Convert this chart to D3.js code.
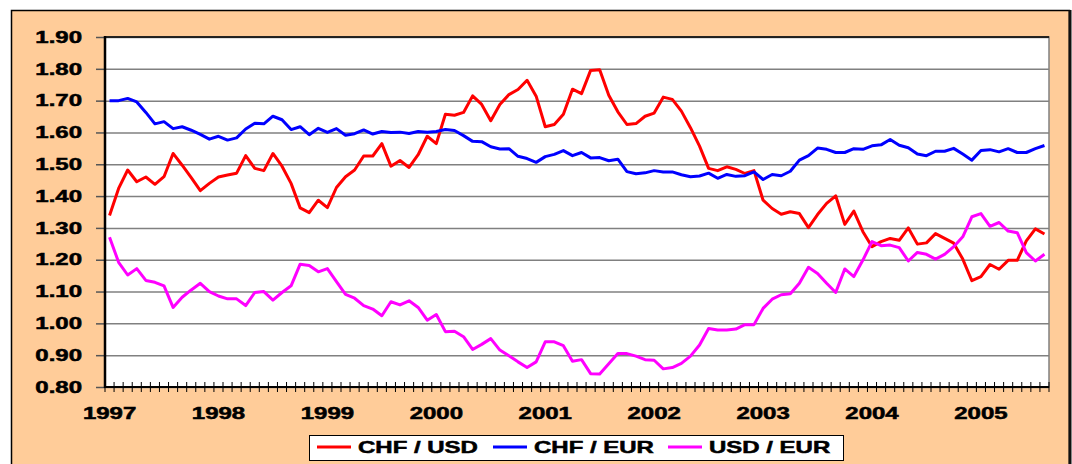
<!DOCTYPE html>
<meta charset="utf-8">
<head>
  <!-- D3 -->
  <script src="https://cdn.jsdelivr.net/npm/d3@7/dist/d3.min.js"></script>
  <style>
    body { margin: 0; background: #fff; }
    text { font-family: "Liberation Sans", Arial, sans-serif; font-weight: bold; font-size: 16px; fill: #000; stroke: #000; stroke-width: 0.5px; }
  </style>
</head>
<body>
<script>

// years shown on the x axis, one category per month Jan 1997 - Aug 2005
var years = ["1997","1998","1999","2000","2001","2002","2003","2004","2005"];
var yTicks = [0.8,0.9,1.0,1.1,1.2,1.3,1.4,1.5,1.6,1.7,1.8,1.9];

var chfUsd = [1.339,1.424,1.482,1.445,1.460,1.437,1.461,1.534,1.497,1.458,1.417,1.440,
  1.460,1.466,1.472,1.527,1.487,1.480,1.534,1.494,1.440,1.363,1.348,1.387,
  1.364,1.427,1.461,1.482,1.526,1.526,1.565,1.494,1.512,1.490,1.530,1.588,
  1.565,1.657,1.654,1.663,1.715,1.688,1.637,1.688,1.719,1.735,1.764,1.714,
  1.618,1.625,1.657,1.736,1.722,1.795,1.797,1.717,1.665,1.625,1.628,1.651,
  1.661,1.711,1.704,1.667,1.615,1.557,1.487,1.480,1.492,1.484,1.471,1.480,
  1.387,1.361,1.343,1.351,1.345,1.301,1.342,1.377,1.401,1.311,1.353,1.288,
  1.241,1.257,1.267,1.261,1.300,1.249,1.253,1.282,1.267,1.252,1.202,1.134,
  1.147,1.185,1.170,1.198,1.198,1.259,1.297,1.281];

var chfEur = [1.700,1.700,1.707,1.696,1.663,1.627,1.634,1.612,1.618,1.607,1.594,1.579,
  1.588,1.576,1.583,1.611,1.629,1.627,1.651,1.640,1.609,1.618,1.593,1.613,
  1.600,1.612,1.591,1.596,1.608,1.595,1.603,1.600,1.601,1.597,1.603,1.601,
  1.603,1.609,1.606,1.590,1.572,1.571,1.555,1.548,1.549,1.525,1.518,1.506,
  1.524,1.531,1.543,1.527,1.537,1.520,1.521,1.511,1.516,1.477,1.470,1.473,
  1.480,1.476,1.476,1.467,1.461,1.463,1.472,1.456,1.468,1.462,1.464,1.476,
  1.452,1.468,1.464,1.478,1.513,1.527,1.551,1.547,1.537,1.537,1.549,1.547,
  1.558,1.561,1.578,1.560,1.552,1.532,1.527,1.541,1.541,1.550,1.532,1.513,
  1.543,1.546,1.539,1.549,1.537,1.537,1.549,1.559];

var usdEur = [1.271,1.192,1.152,1.172,1.135,1.129,1.118,1.050,1.082,1.105,1.126,1.100,
  1.086,1.077,1.077,1.056,1.097,1.100,1.073,1.097,1.118,1.186,1.182,1.162,
  1.172,1.131,1.091,1.079,1.056,1.045,1.024,1.068,1.058,1.071,1.050,1.010,
  1.028,0.974,0.975,0.958,0.918,0.934,0.952,0.916,0.898,0.879,0.861,0.879,
  0.942,0.942,0.930,0.881,0.886,0.842,0.841,0.873,0.905,0.905,0.897,0.886,
  0.884,0.857,0.861,0.874,0.897,0.932,0.984,0.979,0.979,0.982,0.996,0.996,
  1.047,1.076,1.090,1.093,1.126,1.176,1.157,1.126,1.097,1.171,1.147,1.199,
  1.257,1.244,1.246,1.238,1.196,1.223,1.217,1.202,1.217,1.241,1.272,1.335,
  1.345,1.305,1.317,1.290,1.285,1.222,1.196,1.217];

var seriesNames = ["CHF / USD","CHF / EUR","USD / EUR"];
var seriesColors = ["#ff0000","#0000ff","#ff00ff"];
var allSeries = [chfUsd, chfEur, usdEur];

// one category per month
var months = [];
years.forEach(function(y){ for (var m = 1; m <= 12; m++) months.push(y + "-" + m); });
months = months.slice(0, chfUsd.length);

var plot = {left: 105, right: 1049, top: 37, bottom: 387};

var svg = d3.select("body").append("svg")
  .attr("width", 1072).attr("height", 464);

// fondo salmon
svg.append("rect")
  .attr("x", 11.5).attr("y", 10.5).attr("width", 1058).attr("height", 470)
  .attr("fill", "#ffcc99").attr("stroke", "#000").attr("stroke-width", 1.5);
svg.append("line")
  .attr("x1", 1070).attr("x2", 1070).attr("y1", 10).attr("y2", 464)
  .attr("stroke", "#111").attr("stroke-width", 3);

var x = d3.scaleBand().domain(months).range([plot.left, plot.right]);
var xEdge = d3.scaleLinear().domain([0, months.length]).range([plot.left, plot.right]);
var y = d3.scaleLinear().domain([0.8, 1.9]).range([plot.bottom, plot.top]);

// area del grafico
svg.append("rect")
  .attr("x", plot.left).attr("y", plot.top)
  .attr("width", plot.right - plot.left).attr("height", plot.bottom - plot.top)
  .attr("fill", "#fff").attr("stroke", "#808080").attr("stroke-width", 1.5);

// grilla + eje y
var yAxis = d3.axisLeft(y).tickValues(yTicks).tickSize(9).tickFormat(d3.format(".2f"));
var gy = svg.append("g").attr("transform", "translate(" + plot.left + ",0)").call(yAxis);
gy.select(".domain").remove();
gy.selectAll(".tick line").attr("stroke", "#555").attr("stroke-width", 1.5);
gy.selectAll(".tick text").remove();
gy.selectAll(".tick").append("line")
  .attr("x1", 0).attr("x2", plot.right - plot.left)
  .attr("stroke", "#808080").attr("stroke-width", 1.5);

svg.selectAll(".ylab").data(yTicks).enter().append("text")
  .attr("class", "ylab")
  .attr("transform", function(d){ return "translate(82," + y(d) + ") scale(1.5,1)"; })
  .attr("dy", "0.36em")
  .style("text-anchor", "end")
  .text(function(d){ return d.toFixed(2); });

svg.append("line")
  .attr("x1", plot.left).attr("x2", plot.right).attr("y1", plot.top).attr("y2", plot.top)
  .attr("stroke", "#000").attr("stroke-width", 1.5);

// eje x con marcas mensuales que cruzan el eje
svg.selectAll(".xtick").data(d3.range(months.length + 1)).enter().append("line")
  .attr("class", "xtick")
  .attr("x1", function(d){ return xEdge(d); }).attr("x2", function(d){ return xEdge(d); })
  .attr("y1", plot.bottom - 5).attr("y2", plot.bottom + 5)
  .attr("stroke", "#000").attr("stroke-width", 1);

svg.append("line")
  .attr("x1", plot.left).attr("x2", plot.right).attr("y1", plot.bottom).attr("y2", plot.bottom)
  .attr("stroke", "#000").attr("stroke-width", 2);
svg.append("line")
  .attr("x1", plot.left).attr("x2", plot.left).attr("y1", plot.top - 1).attr("y2", plot.bottom + 1)
  .attr("stroke", "#000").attr("stroke-width", 2.5);

svg.selectAll(".xlab").data(years).enter().append("text")
  .attr("class", "xlab")
  .attr("transform", function(d){ return "translate(" + (x(d + "-1") + x.bandwidth() / 2) + ",419) scale(1.5,1)"; })
  .style("text-anchor", "middle")
  .text(function(d){ return d; });

// series
var line = d3.line()
  .x(function(d, i){ return x(months[i]) + x.bandwidth() / 2; })
  .y(function(d){ return y(d); });

allSeries.forEach(function(s, k){
  svg.append("path")
    .datum(s)
    .attr("d", line)
    .attr("fill", "none")
    .attr("stroke", seriesColors[k])
    .attr("stroke-width", 3)
    .attr("stroke-linejoin", "round");
});

// leyenda
svg.append("rect")
  .attr("x", 309.5).attr("y", 435.5).attr("width", 534).attr("height", 25)
  .attr("fill", "#fff").attr("stroke", "#000").attr("stroke-width", 1);

var legX = [317, 493, 668];
var leg = svg.selectAll(".leg").data(seriesNames).enter().append("g").attr("class", "leg");
leg.append("line")
  .attr("x1", function(d, i){ return legX[i]; })
  .attr("x2", function(d, i){ return legX[i] + 34; })
  .attr("y1", 447).attr("y2", 447)
  .attr("stroke", function(d, i){ return seriesColors[i]; })
  .attr("stroke-width", 3);
leg.append("text")
  .attr("transform", function(d, i){ return "translate(" + (legX[i] + 41) + ",453) scale(1.5,1)"; })
  .text(function(d){ return d; });

</script>
</body>
